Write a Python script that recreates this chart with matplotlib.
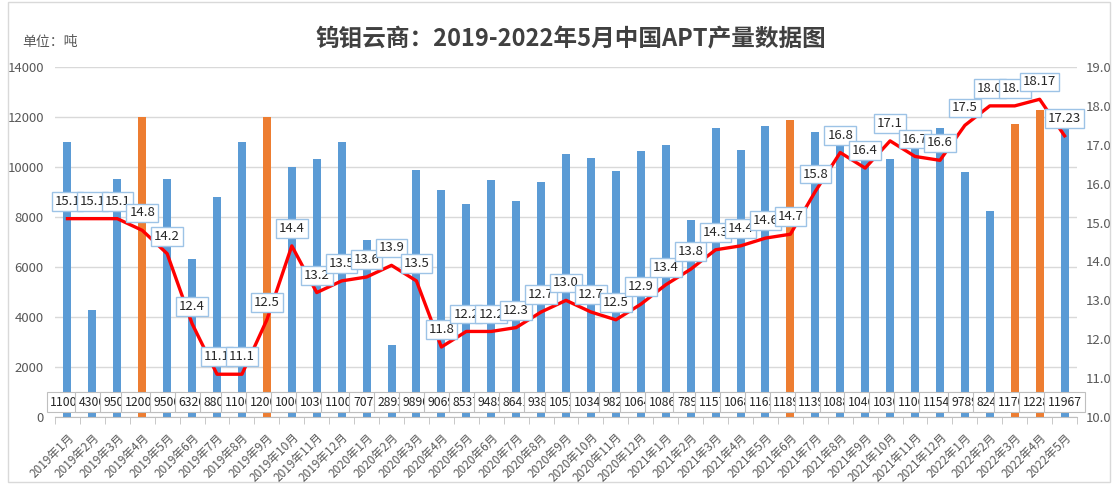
import numpy as np
import matplotlib
matplotlib.use("Agg")
import matplotlib.pyplot as plt
from matplotlib.patches import Rectangle
from matplotlib.ticker import FixedLocator

plt.rcParams['font.family'] = ['Noto Sans CJK SC', 'DejaVu Sans']

# months 2019-01 .. 2022-05
months = [f"{y}年{m}月" for y in (2019, 2020, 2021) for m in range(1, 13)] + \
         [f"2022年{m}月" for m in range(1, 6)]

# APT output (tons)
output = [11000, 4300, 9500, 12000, 9500, 6320, 8800, 11000, 12000, 10000, 10300, 11000,
          7073, 2893, 9890, 9069, 8537, 9485, 8641, 9380, 10520, 10340, 9820, 10640,
          10860, 7890, 11570, 10680, 11650, 11890, 11390, 10880, 10460, 10300, 11060, 11540,
          9789, 8240, 11700, 12280, 11967]

# months highlighted in orange
highlight = ["2019年4月", "2019年9月", "2021年6月", "2022年3月", "2022年4月"]

# price line (right axis)
price = [15.1, 15.1, 15.1, 14.8, 14.2, 12.4, 11.1, 11.1, 12.5, 14.4, 13.2, 13.5,
         13.6, 13.9, 13.5, 11.8, 12.2, 12.2, 12.3, 12.7, 13.0, 12.7, 12.5, 12.9,
         13.4, 13.8, 14.3, 14.4, 14.6, 14.7, 15.8, 16.8, 16.4, 17.1, 16.7, 16.6,
         17.5, 18.0, 18.0, 18.17, 17.23]
price_labels = [f"{p:.1f}" for p in price[:-2]] + ["18.17", "17.23"]

blue = "#5B9BD5"
orange = "#ED7D31"
gray_txt = "#595959"

fig = plt.figure(figsize=(11.13, 4.84), dpi=100)
ax = fig.add_axes([0.0494, 0.1384, 0.9183, 0.7232])
ax2 = ax.twinx()

x = np.arange(len(months))
colors = [orange if m in highlight else blue for m in months]
ax.bar(x, output, width=0.32, color=colors, zorder=2)

ax.set_xlim(-0.5, len(months) - 0.5)
ax.set_ylim(0, 14000)
ax.set_yticks(range(0, 14001, 2000))
ax.grid(axis='y', color='#D9D9D9', linewidth=1, zorder=0)
ax.set_axisbelow(True)

# bottom value boxes, each one clipped to its own cell (last one full)
for i, v in enumerate(output):
    t = ax.text(i, 600, str(v), ha='center', va='center', fontsize=8.8, color='#262626',
                zorder=10 + i,
                bbox=dict(boxstyle='square,pad=0.3', fc='white', ec='#BFBFBF', lw=0.8))
    if i < len(output) - 1:
        left = -0.5 - 0.2 if i == 0 else i - 0.5
        clip = Rectangle((left, -1000), i + 0.5 - left, 3000, transform=ax.transData)
        t.set_clip_path(clip)

ax.xaxis.set_major_locator(FixedLocator(x))
ax.set_xticklabels(months, rotation=45, ha='right', va='top', fontsize=8.5,
                   color=gray_txt, rotation_mode='anchor')
ax.xaxis.set_minor_locator(FixedLocator(np.arange(-0.5, len(months), 1)))
ax.tick_params(axis='x', which='major', length=0, pad=10)
ax.tick_params(axis='x', which='minor', length=5, color='#BFBFBF')
ax.tick_params(axis='y', length=0, labelsize=9.5, labelcolor=gray_txt, pad=8)

for s in ('top', 'left', 'right'):
    ax.spines[s].set_visible(False)
    ax2.spines[s].set_visible(False)
ax.spines['bottom'].set_color('#BFBFBF')
ax2.spines['bottom'].set_visible(False)

ax2.plot(x, price, color='#FF0000', linewidth=2.4, zorder=5)
ax2.set_ylim(10, 19)
ax2.set_yticks(np.arange(10, 19.01, 1.0))
ax2.set_yticklabels([f"{t:.1f}" for t in np.arange(10, 19.01, 1.0)])
ax2.tick_params(axis='y', length=0, labelsize=9.5, labelcolor=gray_txt, pad=6)

for i, (p, lab) in enumerate(zip(price, price_labels)):
    ax2.annotate(lab, (i, p), xytext=(0, 12.5), textcoords='offset points',
                 ha='center', va='center', fontsize=9.5, color='#262626', zorder=20 + i,
                 bbox=dict(boxstyle='square,pad=0.22', fc='white', ec='#9DC3E6', lw=1))

fig.text(0.513, 0.918, "钨钼云商：2019-2022年5月中国APT产量数据图", ha='center', va='center',
         fontsize=17, fontweight='bold', color='#404040')
fig.text(0.02, 0.913, "单位：吨", ha='left', va='center', fontsize=10, color=gray_txt)

fig.patches.append(Rectangle((0.007, 0.004), 0.99, 0.992, transform=fig.transFigure,
                             fill=False, ec='#D9D9D9', lw=1))

fig.savefig("out.png", dpi=100)
